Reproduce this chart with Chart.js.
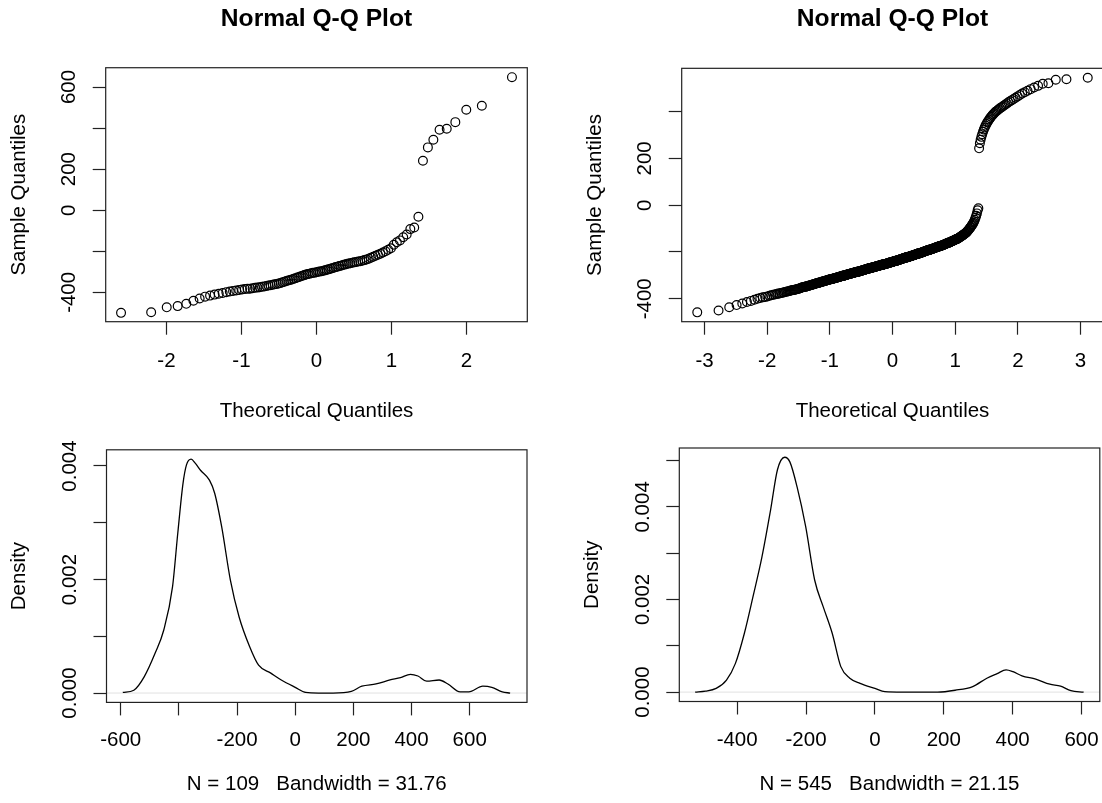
<!DOCTYPE html>
<html>
<head>
<meta charset="utf-8">
<title>Normal Q-Q plots and densities</title>
<script src="https://cdn.jsdelivr.net/npm/chart.js@4.4.1/dist/chart.umd.min.js"></script>
<style>
  html, body { margin: 0; padding: 0; background: #fff; }
  body { width: 1102px; height: 803px; overflow: hidden; position: relative; }
  .panel { position: absolute; }
  .panel canvas { display: block; }
</style>
</head>
<body>
<div class="panel" style="left:0px;top:0px;width:547px;height:424px"><canvas id="qq-small"></canvas></div>
<div class="panel" style="left:576px;top:0px;width:548px;height:424px"><canvas id="qq-large"></canvas></div>
<div class="panel" style="left:0px;top:430px;width:547px;height:373px"><canvas id="dens-small"></canvas></div>
<div class="panel" style="left:573px;top:430px;width:547px;height:373px"><canvas id="dens-large"></canvas></div>
<script>
// sorted sample values
const SMALL_SAMPLE = [
  -500, -497, -473, -467, -456, -441, -430, -421, -416, -411,
  -407, -403, -399, -396, -393, -391, -388, -386, -384, -383,
  -382, -380, -378, -377, -375, -373, -371, -369, -367, -365,
  -363, -361, -359, -357, -354, -351, -348, -345, -342, -340,
  -337, -334, -331, -328, -325, -322, -319, -316, -313, -311,
  -309, -307, -305, -304, -302, -300, -298, -297, -295, -293,
  -290, -288, -285, -283, -280, -277, -275, -272, -270, -267,
  -265, -262, -260, -258, -256, -254, -252, -250, -248, -246,
  -243, -240, -236, -231, -227, -222, -217, -212, -206, -200,
  -193, -185, -168, -156, -147, -132, -118, -92, -84, -32,
  241, 306, 343, 392, 397, 429, 489, 509, 648
];

const LARGE_SAMPLE = [
  -458, -450, -436, -427, -420, -414, -409, -404, -400, -397,
  -394, -392, -390, -387, -385, -383, -382, -380, -378, -377,
  -375, -374, -373, -371, -370, -369, -368, -367, -365, -364,
  -363, -362, -361, -360, -359, -358, -357, -356, -355, -353,
  -352, -351, -350, -350, -349, -348, -347, -346, -345, -344,
  -343, -342, -342, -341, -340, -339, -338, -338, -337, -336,
  -335, -334, -334, -333, -332, -331, -330, -330, -329, -328,
  -327, -327, -326, -326, -325, -324, -324, -323, -323, -322,
  -321, -321, -320, -320, -319, -318, -318, -317, -317, -316,
  -315, -315, -314, -314, -313, -313, -312, -312, -311, -311,
  -310, -310, -309, -309, -308, -308, -307, -307, -306, -306,
  -305, -305, -304, -304, -303, -303, -302, -302, -301, -301,
  -300, -300, -299, -299, -298, -298, -297, -297, -296, -296,
  -295, -295, -295, -294, -294, -293, -293, -293, -292, -292,
  -291, -291, -291, -290, -290, -289, -289, -289, -288, -288,
  -287, -287, -287, -286, -286, -285, -285, -285, -284, -284,
  -283, -283, -283, -282, -282, -281, -281, -281, -280, -280,
  -279, -279, -279, -278, -278, -277, -277, -277, -276, -276,
  -275, -275, -275, -274, -274, -273, -273, -273, -272, -272,
  -271, -271, -271, -270, -270, -269, -269, -269, -268, -268,
  -267, -267, -267, -266, -266, -266, -265, -265, -265, -265,
  -264, -264, -264, -263, -263, -262, -262, -262, -261, -261,
  -260, -260, -260, -259, -259, -259, -259, -258, -258, -258,
  -257, -257, -257, -256, -256, -255, -255, -255, -254, -254,
  -253, -253, -253, -252, -252, -252, -252, -251, -251, -251,
  -250, -250, -250, -249, -249, -248, -248, -248, -247, -247,
  -246, -246, -246, -245, -245, -245, -245, -244, -244, -244,
  -243, -243, -243, -242, -242, -241, -241, -241, -240, -240,
  -239, -239, -239, -238, -238, -237, -237, -237, -236, -236,
  -235, -235, -235, -234, -234, -233, -233, -233, -232, -232,
  -231, -231, -231, -230, -230, -229, -229, -229, -228, -228,
  -227, -227, -227, -226, -226, -225, -225, -225, -224, -224,
  -223, -223, -223, -222, -222, -221, -221, -221, -220, -220,
  -219, -219, -219, -218, -218, -217, -217, -217, -216, -216,
  -215, -215, -215, -214, -214, -213, -213, -213, -212, -212,
  -211, -211, -210, -210, -209, -209, -208, -208, -207, -207,
  -206, -206, -206, -205, -205, -205, -204, -204, -203, -203,
  -202, -202, -201, -201, -200, -200, -199, -199, -198, -198,
  -197, -197, -196, -196, -195, -195, -194, -194, -193, -193,
  -192, -192, -191, -191, -190, -190, -189, -189, -188, -188,
  -187, -187, -186, -186, -185, -185, -184, -184, -183, -183,
  -182, -181, -181, -180, -180, -179, -179, -178, -178, -177,
  -176, -175, -175, -174, -174, -173, -173, -172, -172, -171,
  -170, -170, -169, -168, -168, -167, -166, -165, -165, -164,
  -163, -162, -162, -161, -160, -159, -159, -158, -157, -156,
  -155, -154, -153, -152, -152, -151, -150, -149, -148, -147,
  -146, -145, -144, -143, -142, -140, -139, -138, -136, -135,
  -133, -132, -130, -128, -127, -125, -123, -121, -120, -118,
  -115, -112, -109, -106, -103, -100, -96, -92, -88, -84,
  -80, -75, -69, -62, -54, -45, -35, -22, -13,
  243, 265, 280, 292, 303, 314, 323, 332, 340, 347,
  354, 360, 366, 372, 378, 383, 388, 393, 398, 402,
  406, 410, 414, 418, 422, 426, 430, 435, 440, 444,
  449, 454, 459, 465, 471, 477, 483, 489, 496, 503,
  510, 519, 521, 536, 538, 545
];

// density curves
const SMALL_DENS_X = [-593, -555, -519, -482, -452, -422, -404, -386, -374, -358, -344, -325, -295, -277, -253, -223, -193, -157, -126, -84, -48, 0, 36, 80, 130, 193, 229, 278, 326, 362, 396, 422, 452, 495, 525, 567, 597, 645, 676, 712, 739];
const SMALL_DENS_Y = [0.00001, 0.00005, 0.00029, 0.00070, 0.00111, 0.00187, 0.00281, 0.00369, 0.00402, 0.00412, 0.00405, 0.00392, 0.00375, 0.00352, 0.00293, 0.00199, 0.00134, 0.00082, 0.00049, 0.00035, 0.00023, 0.00010, 0.00001, 0, 0, 0.00003, 0.00012, 0.00016, 0.00023, 0.00027, 0.00033, 0.00030, 0.00021, 0.00023, 0.00016, 0.00002, 0.00002, 0.00012, 0.00010, 0.00002, 0];

const LARGE_DENS_X = [-522, -492, -461, -431, -405, -379, -354, -328, -303, -283, -262, -247, -226, -201, -175, -150, -124, -99, -73, -43, 0, 29, 80, 182, 233, 284, 325, 355, 381, 401, 427, 467, 508, 539, 569, 606];
const LARGE_DENS_Y = [0, 0.00002, 0.00008, 0.00026, 0.00062, 0.00127, 0.00206, 0.00292, 0.00393, 0.00480, 0.00507, 0.00497, 0.00443, 0.00357, 0.00242, 0.00184, 0.00127, 0.00055, 0.00030, 0.00019, 0.00008, 0.00001, 0, 0, 0.00004, 0.00012, 0.00030, 0.00040, 0.00048, 0.00044, 0.00035, 0.00028, 0.00017, 0.00013, 0.00003, 0];

// axis ticks and labels (R drops labels that would overlap)
const QQ_SMALL_X_TICKS = [-2, -1, 0, 1, 2];
const QQ_SMALL_X_LABELS = ["-2", "-1", "0", "1", "2"];
const QQ_SMALL_Y_TICKS = [-400, -200, 0, 200, 400, 600];
const QQ_SMALL_Y_LABELS = ["-400", "", "0", "200", "", "600"];

const QQ_LARGE_X_TICKS = [-3, -2, -1, 0, 1, 2, 3];
const QQ_LARGE_X_LABELS = ["-3", "-2", "-1", "0", "1", "2", "3"];
const QQ_LARGE_Y_TICKS = [-400, -200, 0, 200, 400];
const QQ_LARGE_Y_LABELS = ["-400", "", "0", "200", ""];

const DENS_SMALL_X_TICKS = [-600, -400, -200, 0, 200, 400, 600];
const DENS_SMALL_X_LABELS = ["-600", "", "-200", "0", "200", "400", "600"];
const DENS_SMALL_Y_TICKS = [0, 0.001, 0.002, 0.003, 0.004];
const DENS_SMALL_Y_LABELS = ["0.000", "", "0.002", "", "0.004"];

const DENS_LARGE_X_TICKS = [-400, -200, 0, 200, 400, 600];
const DENS_LARGE_X_LABELS = ["-400", "-200", "0", "200", "400", "600"];
const DENS_LARGE_Y_TICKS = [0, 0.001, 0.002, 0.003, 0.004, 0.005];
const DENS_LARGE_Y_LABELS = ["0.000", "", "0.002", "", "0.004", ""];

const FONT = '"Liberation Sans", Arial, Helvetica, sans-serif';
const INK = "#000";
const FRAME = "#222";

// inverse normal CDF (Acklam), used for the theoretical quantile axis
function qnorm(p) {
  const a = [-39.69683028665376, 220.9460984245205, -275.9285104469687, 138.3577518672690, -30.66479806614716, 2.506628277459239];
  const b = [-54.47609879822406, 161.5858368580409, -155.6989798598866, 66.80131188771972, -13.28068155288572];
  const c = [-0.007784894002430293, -0.3223964580411365, -2.400758277161838, -2.549732539343734, 4.374664141464968, 2.938163982698783];
  const d = [0.007784695709041462, 0.3224671290700398, 2.445134137142996, 3.754408661907416];
  const tail = (q) => (((((c[0] * q + c[1]) * q + c[2]) * q + c[3]) * q + c[4]) * q + c[5]) /
    ((((d[0] * q + d[1]) * q + d[2]) * q + d[3]) * q + 1);
  if (p < 0.02425) return tail(Math.sqrt(-2 * Math.log(p)));
  if (p > 1 - 0.02425) return -tail(Math.sqrt(-2 * Math.log(1 - p)));
  const q = p - 0.5, r = q * q;
  return (((((a[0] * r + a[1]) * r + a[2]) * r + a[3]) * r + a[4]) * r + a[5]) * q /
    (((((b[0] * r + b[1]) * r + b[2]) * r + b[3]) * r + b[4]) * r + 1);
}

// same as R's qqnorm: x = qnorm(ppoints(n)), y = sorted sample
function qqPoints(sample) {
  const n = sample.length;
  const a = n <= 10 ? 3 / 8 : 0.5;
  return sample.map((v, i) => ({ x: qnorm((i + 1 - a) / (n + 1 - 2 * a)), y: v }));
}

function curve(xs, ys) {
  return xs.map((x, i) => ({ x, y: ys[i] }));
}

function fixedTicks(values) {
  return (scale) => { scale.ticks = values.map((v) => ({ value: v })); };
}

// box round the plot region plus R style rotated y tick labels
function rFrame(yTicks, yLabels) {
  return {
    id: "rFrame",
    afterDraw(chart) {
      const { ctx, chartArea: a } = chart;
      const y = chart.scales.y;
      ctx.save();
      ctx.strokeStyle = FRAME;
      ctx.lineWidth = 1.2;
      ctx.strokeRect(a.left, a.top, a.right - a.left, a.bottom - a.top);
      ctx.fillStyle = INK;
      ctx.font = `20.5px ${FONT}`;
      ctx.textAlign = "center";
      ctx.textBaseline = "middle";
      yLabels.forEach((text, i) => {
        if (!text) return;
        ctx.save();
        ctx.translate(a.left - 36, y.getPixelForValue(yTicks[i]));
        ctx.rotate(-Math.PI / 2);
        ctx.fillText(text, 0, 0);
        ctx.restore();
      });
      ctx.restore();
    }
  };
}

function makePanel(canvasId, p) {
  const axisFont = { family: FONT, size: 20.5 };
  const tickGrid = { drawOnChartArea: false, drawTicks: true, tickLength: 13, tickColor: FRAME, tickWidth: 1.2 };

  return new Chart(document.getElementById(canvasId), {
    type: "scatter",
    data: { datasets: p.datasets },
    options: {
      responsive: true,
      maintainAspectRatio: false,
      animation: false,
      events: [],
      layout: { padding: p.padding },
      plugins: {
        legend: { display: false },
        tooltip: { enabled: false },
        title: p.title
          ? { display: true, text: p.title, color: INK, fullSize: false,
              font: { family: FONT, size: 24.6, weight: "bold" }, padding: p.titlePadding }
          : { display: false }
      },
      scales: {
        x: {
          type: "linear", min: p.xLim[0], max: p.xLim[1],
          afterBuildTicks: fixedTicks(p.xTicks),
          afterFit: (s) => { s.height = p.xAxisHeight; },
          border: { display: false },
          grid: tickGrid,
          ticks: { color: INK, font: axisFont, padding: p.xTickPad, maxRotation: 0, minRotation: 0,
                   autoSkip: false, callback: (v, i) => p.xLabels[i] },
          title: { display: true, text: p.xTitle, color: INK, font: axisFont,
                   padding: { top: 0, bottom: p.xTitlePad } }
        },
        y: {
          type: "linear", min: p.yLim[0], max: p.yLim[1],
          afterBuildTicks: fixedTicks(p.yTicks),
          afterFit: (s) => { s.width = p.yAxisWidth; },
          border: { display: false },
          grid: tickGrid,
          ticks: { display: false },
          title: { display: true, text: p.yTitle, color: INK, font: axisFont, padding: { top: 7, bottom: 0 } }
        }
      }
    },
    plugins: [rFrame(p.yTicks, p.yLabels)]
  });
}

function qqDataset(sample) {
  return {
    data: qqPoints(sample),
    showLine: false,
    pointStyle: "circle",
    pointRadius: 4.4,
    pointBorderWidth: 1.2,
    pointBorderColor: INK,
    pointBackgroundColor: "rgba(0,0,0,0)"
  };
}

function densityDatasets(xs, ys, xLim) {
  return [
    { data: [{ x: xLim[0], y: 0 }, { x: xLim[1], y: 0 }], showLine: true, pointRadius: 0,
      borderColor: "rgba(0,0,0,0.12)", borderWidth: 1 },
    { data: curve(xs, ys), showLine: true, pointRadius: 0, borderColor: INK, borderWidth: 1.3,
      cubicInterpolationMode: "monotone" }
  ];
}

Chart.defaults.font.family = FONT;
Chart.defaults.color = INK;

makePanel("qq-small", {
  datasets: [qqDataset(SMALL_SAMPLE)],
  title: "Normal Q-Q Plot", titlePadding: { top: 4.4, bottom: 33.8 },
  padding: { left: 0, top: 0, right: 19.7, bottom: 0 },
  xLim: [-2.81, 2.81], yLim: [-543, 694],
  xTicks: QQ_SMALL_X_TICKS, xLabels: QQ_SMALL_X_LABELS,
  yTicks: QQ_SMALL_Y_TICKS, yLabels: QQ_SMALL_Y_LABELS,
  xTitle: "Theoretical Quantiles", yTitle: "Sample Quantiles",
  xAxisHeight: 102.3, yAxisWidth: 105.7, xTickPad: 14.7, xTitlePad: 0
});

makePanel("qq-large", {
  datasets: [qqDataset(LARGE_SAMPLE)],
  title: "Normal Q-Q Plot", titlePadding: { top: 4.4, bottom: 34.4 },
  padding: { left: 0, top: 0, right: 20.7, bottom: 0 },
  xLim: [-3.364, 3.364], yLim: [-498, 585],
  xTicks: QQ_LARGE_X_TICKS, xLabels: QQ_LARGE_X_LABELS,
  yTicks: QQ_LARGE_Y_TICKS, yLabels: QQ_LARGE_Y_LABELS,
  xTitle: "Theoretical Quantiles", yTitle: "Sample Quantiles",
  xAxisHeight: 102.3, yAxisWidth: 105.7, xTickPad: 14.7, xTitlePad: 0
});

makePanel("dens-small", {
  datasets: densityDatasets(SMALL_DENS_X, SMALL_DENS_Y, [-649, 797]),
  padding: { left: 0, top: 19.8, right: 20, bottom: 0 },
  xLim: [-649, 797], yLim: [-0.000165, 0.004285],
  xTicks: DENS_SMALL_X_TICKS, xLabels: DENS_SMALL_X_LABELS,
  yTicks: DENS_SMALL_Y_TICKS, yLabels: DENS_SMALL_Y_LABELS,
  xTitle: "N = 109   Bandwidth = 31.76", yTitle: "Density",
  xAxisHeight: 100.6, yAxisWidth: 106.5, xTickPad: 12.3, xTitlePad: 6.7
});

makePanel("dens-large", {
  datasets: densityDatasets(LARGE_DENS_X, LARGE_DENS_Y, [-568, 653]),
  padding: { left: 0, top: 18, right: 20.2, bottom: 0 },
  xLim: [-568, 653], yLim: [-0.000203, 0.00527],
  xTicks: DENS_LARGE_X_TICKS, xLabels: DENS_LARGE_X_LABELS,
  yTicks: DENS_LARGE_Y_TICKS, yLabels: DENS_LARGE_Y_LABELS,
  xTitle: "N = 545   Bandwidth = 21.15", yTitle: "Density",
  xAxisHeight: 101.5, yAxisWidth: 106.3, xTickPad: 13.2, xTitlePad: 6.7
});
</script>
</body>
</html>
